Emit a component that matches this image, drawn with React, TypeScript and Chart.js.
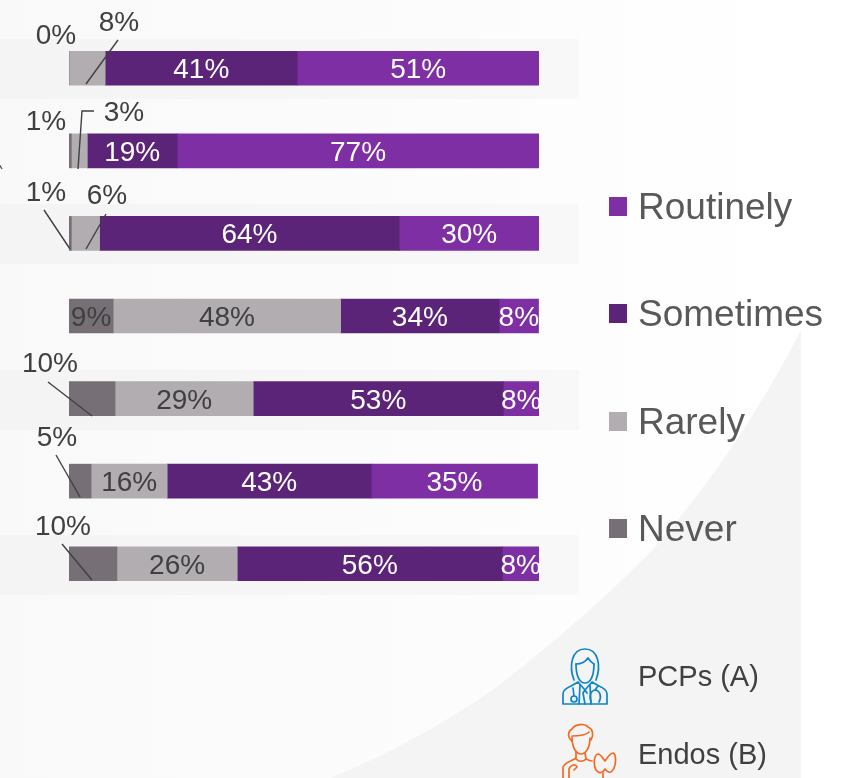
import React, { useEffect, useRef } from "react";
import { Chart, registerables } from "chart.js";

Chart.register(...registerables);

const categories = ["Item 1", "Item 2", "Item 3", "Item 4", "Item 5", "Item 6", "Item 7"];
const never = [0, 0.5, 0.5, 9.4, 9.8, 4.7, 10.2];
const rarely = [7.7, 3.4, 6, 48.4, 29.4, 16.2, 25.6];
const sometimes = [40.9, 19.1, 63.8, 33.7, 53.2, 43.4, 56.4];
const routinely = [51.4, 77, 29.7, 8.4, 7.6, 35.4, 7.8];
const seriesNames = ["Never", "Rarely", "Sometimes", "Routinely"];
const seriesColors = ["#767076", "#b1adb0", "#5c2478", "#7e2fa3"];
const labelColors = ["#404040", "#404040", "#ffffff", "#ffffff"];
const audience = ["PCPs (A)", "Endos (B)"];

const FONT = '"Liberation Sans", Arial, sans-serif';

// Values shown outside their bar: [series, row, label dx, label dy, leader points relative to bar start / row centre]
type Callout = [number, number, number, number, number[][]];
const callouts: Callout[] = [
  [0, 0, -13, -24, []],
  [1, 0, 50, -37, [[49, -28], [17, 16]]],
  [0, 1, -23, -21, []],
  [1, 1, 55, -30, [[25, -40], [13, -40], [9, 18]]],
  [0, 2, -23, -32, [[-25, -23], [1, 16]]],
  [1, 2, 38, -29, [[37, -19], [17, 16]]],
  [0, 4, -19, -27, [[-21, -17], [23, 17]]],
  [0, 5, -12, -35, [[-13, -26], [11, 16]]],
  [0, 6, -6, -29, [[-7, -20], [23, 16]]],
];

const backdrop = {
  id: "backdrop",
  beforeDraw(chart: any) {
    const { ctx, scales } = chart;
    ctx.save();
    const g = ctx.createLinearGradient(0, 0, 801, 0);
    g.addColorStop(0, "#f9f9f9");
    g.addColorStop(0.7, "#fdfdfd");
    g.addColorStop(1, "#ffffff");
    ctx.fillStyle = g;
    ctx.fillRect(0, 0, 801, 778);
    ctx.fillStyle = "#f4f4f4";
    ctx.beginPath();
    ctx.moveTo(801, 330);
    ctx.quadraticCurveTo(740, 450, 650, 553);
    ctx.quadraticCurveTo(583, 620, 497, 687);
    ctx.quadraticCurveTo(413, 745, 330, 778);
    ctx.lineTo(801, 778);
    ctx.closePath();
    ctx.fill();
    ctx.fillStyle = "rgba(0,0,0,0.02)";
    categories.forEach((_, i) => {
      if (i % 2 === 0) {
        const y = scales.y.getPixelForValue(i);
        ctx.fillRect(0, Math.round(y) - 29, 579, 60);
      }
    });
    ctx.restore();
  },
};

const annotations = {
  id: "annotations",
  afterDatasetsDraw(chart: any) {
    const { ctx, scales, data } = chart;
    const { x: xs, y: ys } = scales;
    ctx.save();
    ctx.font = `28px ${FONT}`;
    ctx.textAlign = "center";
    ctx.textBaseline = "alphabetic";

    data.datasets.forEach((ds: any, s: number) => {
      ds.data.forEach((v: number, r: number) => {
        if (callouts.some((c) => c[0] === s && c[1] === r)) return;
        let start = 0;
        for (let k = 0; k < s; k++) start += data.datasets[k].data[r];
        ctx.fillStyle = labelColors[s];
        ctx.fillText(`${Math.round(v)}%`, xs.getPixelForValue(start + v / 2), ys.getPixelForValue(r) + 10);
      });
    });

    const x0 = xs.getPixelForValue(0);
    callouts.forEach(([s, r, dx, dy, pts]) => {
      const yc = Math.round(ys.getPixelForValue(r));
      ctx.fillStyle = "#404040";
      ctx.fillText(`${Math.round(data.datasets[s].data[r])}%`, x0 + dx, yc + dy);
      if (pts.length) {
        ctx.strokeStyle = "#404040";
        ctx.lineWidth = 1.4;
        ctx.beginPath();
        pts.forEach(([px, py], i) => (i ? ctx.lineTo(x0 + px, yc + py) : ctx.moveTo(x0 + px, yc + py)));
        ctx.stroke();
      }
    });

    // leader fragment at the page's left edge
    ctx.strokeStyle = "#404040";
    ctx.lineWidth = 1.2;
    ctx.beginPath();
    ctx.moveTo(-1, 164);
    ctx.lineTo(2, 169);
    ctx.stroke();

    // legend, top to bottom
    ctx.textAlign = "left";
    ctx.font = `37px ${FONT}`;
    [3, 2, 1, 0].forEach((s, i) => {
      const base = 219 + i * 107.4;
      ctx.fillStyle = data.datasets[s].backgroundColor;
      ctx.fillRect(609, Math.round(base) - 22, 18, 19);
      ctx.fillStyle = "#595959";
      ctx.fillText(data.datasets[s].label, 638, base);
    });

    ctx.font = `29px ${FONT}`;
    ctx.fillStyle = "#404040";
    ctx.fillText(audience[0], 638, 686);
    ctx.fillText(audience[1], 638, 764);
    ctx.restore();
  },
};

export default function App() {
  const ref = useRef<HTMLCanvasElement | null>(null);

  useEffect(() => {
    if (!ref.current) return;
    const chart = new Chart(ref.current, {
      type: "bar",
      data: {
        labels: categories,
        datasets: [never, rarely, sometimes, routinely].map((d, i) => ({
          label: seriesNames[i],
          data: d,
          backgroundColor: seriesColors[i],
          borderWidth: 0,
          barThickness: 34,
        })),
      },
      options: {
        indexAxis: "y",
        animation: false,
        responsive: false,
        layout: { padding: { left: 69, right: 304, top: 27, bottom: 173 } },
        scales: {
          x: { stacked: true, min: 0, max: 100, display: false },
          y: { stacked: true, display: false },
        },
        plugins: { legend: { display: false }, tooltip: { enabled: false } },
      },
      plugins: [backdrop, annotations],
    } as any);
    return () => chart.destroy();
  }, []);

  return (
    <div style={{ position: "absolute", left: 0, top: 0, width: 843, height: 778, overflow: "hidden" }}>
      <canvas ref={ref} width={843} height={778} style={{ display: "block" }} />
      <svg
        width={843}
        height={778}
        style={{ position: "absolute", left: 0, top: 0 }}
        fill="none"
        strokeWidth={1.7}
        strokeLinejoin="round"
        strokeLinecap="round"
      >
        <g stroke="#0d85c8" transform="translate(562 647)">
          <path d="M12 33 C7 20 9 2 23 2 C37 2 39 20 34 33" />
          <path d="M14 17 C14 30 18 36 23 36 C28 36 32 30 32 17" />
          <path d="M14 17 C20 17 24 14 26 11 C28 14 30 16 32 17" />
          <path d="M1 57 L1 47 C1 41 9 40 16 35 L23 43 L30 35 C37 40 45 41 45 47 L45 57 Z" />
          <path d="M18 38 L17 57 M28 38 L29 57 M23 43 L21 46 L23 57 M23 43 L25 46" />
          <path d="M11 41 L12 49" />
          <circle cx="12" cy="52" r="3" />
          <path d="M29 55 C27 50 28 44 33 43 C38 43 40 50 37 55 M33 43 L36 39" />
        </g>
        <g stroke="#f26a21" transform="translate(562 723)">
          <path d="M10 18 C5 14 6 8 10 6 C13 1 23 0 26 4 C31 6 32 12 29 17" />
          <path d="M10 13 C15 13 23 13 27 9" />
          <path d="M10 14 C10 26 15 31 19 31 C23 31 28 26 28 15" />
          <path d="M14 29 L14 35 C10 38 3 39 1 44 L1 56 M23 30 L24 36 C26 37 28 38 30 38" />
          <path d="M7 56 L7 46 C9 41 14 41 15 44 M15 44 L12 47" />
          <path d="M14 36 C17 39 21 39 24 36" />
          <path d="M34 47 C31 41 32 32 36 31 C39 31 41 36 43 38 C45 35 49 30 51 30 C55 32 54 44 50 48 C47 51 45 48 43 46 C41 50 37 51 34 47 Z" />
          <path d="M41 50 L41 56" />
        </g>
      </svg>
    </div>
  );
}
